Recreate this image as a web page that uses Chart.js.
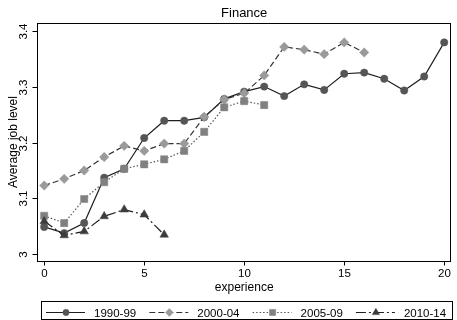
<!DOCTYPE html>
<html>
<head>
<meta charset="utf-8">
<script src="https://cdn.jsdelivr.net/npm/chart.js@4/dist/chart.umd.min.js"></script>
<style>
  html, body { margin: 0; padding: 0; background: #fff; }
  #wrap { width: 457px; height: 320px; position: relative; }
</style>
</head>
<body>
<div id="wrap"><canvas id="c"></canvas></div>
<script>
// Years of experience on the x axis
const experience = [0, 1, 2, 3, 4, 5, 6, 7, 8, 9, 10, 11, 12, 13, 14, 15, 16, 17, 18, 19, 20];

// Average job level by entry cohort
const cohort1990 = [3.049, 3.038, 3.056, 3.137, 3.153, 3.208, 3.239, 3.239, 3.245, 3.278, 3.291,
                    3.300, 3.283, 3.304, 3.294, 3.323, 3.325, 3.314, 3.293, 3.318, 3.379];
const cohort2000 = [3.123, 3.135, 3.150, 3.174, 3.194, 3.185, 3.198, 3.198, 3.246, 3.277, 3.288,
                    3.320, 3.371, 3.366, 3.358, 3.379, 3.361];
const cohort2005 = [3.069, 3.056, 3.099, 3.129, 3.153, 3.161, 3.170, 3.185, 3.219, 3.263, 3.274, 3.267];
const cohort2010 = [3.059, 3.034, 3.041, 3.068, 3.080, 3.071, 3.035];

const seriesNames = ['1990-99', '2000-04', '2005-09', '2010-14'];
const xTicks = [0, 5, 10, 15, 20];
const yTicks = [3, 3.1, 3.2, 3.3, 3.4];
const chartTitle = 'Finance';
const xTitle = 'experience';
const yTitle = 'Average job level';

const FONT = '"Liberation Sans", Arial, Helvetica, sans-serif';

function pts(values) {
  return values.map((v, i) => ({ x: experience[i], y: v }));
}

const styles = [
  { line: '#1e1e1e', mark: '#555555', dash: [], shape: 'circle', r: 3.7 },
  { line: '#333333', mark: '#9a9a9a', dash: [6, 3], shape: 'rectRot', r: 4.7 },
  { line: '#555555', mark: '#808080', dash: [1.5, 2], shape: 'rect', r: 5.1 },
  { line: '#1e1e1e', mark: '#3c3c3c', dash: [10, 3, 2, 3], shape: 'triangle', r: 4.9 }
];
const seriesData = [cohort1990, cohort2000, cohort2005, cohort2010];

const datasets = seriesData.map((vals, i) => ({
  label: seriesNames[i],
  data: pts(vals),
  borderColor: styles[i].line,
  borderWidth: 1.2,
  borderDash: styles[i].dash,
  backgroundColor: styles[i].mark,
  pointStyle: styles[i].shape,
  pointRadius: styles[i].r,
  pointBackgroundColor: styles[i].mark,
  pointBorderColor: styles[i].mark,
  pointBorderWidth: 0.5,
  tension: 0,
  fill: false,
  order: seriesData.length - i
}));

// Frame, ticks, titles and the boxed legend
const decorations = {
  id: 'decorations',
  afterDraw(chart) {
    const ctx = chart.ctx;
    const a = chart.chartArea;
    const xs = chart.scales.x, ys = chart.scales.y;
    ctx.save();

    // plot frame
    ctx.strokeStyle = '#000';
    ctx.lineWidth = 1;
    ctx.setLineDash([]);
    ctx.strokeRect(Math.round(a.left) + 0.5, Math.round(a.top) + 0.5,
                   Math.round(a.right - a.left) - 1, Math.round(a.bottom - a.top));

    // x ticks and labels
    ctx.fillStyle = '#000';
    ctx.font = '11.5px ' + FONT;
    ctx.textAlign = 'center';
    ctx.textBaseline = 'alphabetic';
    xTicks.forEach(t => {
      const px = Math.round(xs.getPixelForValue(t)) + 0.5;
      ctx.beginPath();
      ctx.moveTo(px, a.bottom);
      ctx.lineTo(px, a.bottom + 4.5);
      ctx.stroke();
      ctx.fillText(String(t), px, 277);
    });

    // y ticks and rotated labels
    yTicks.forEach(t => {
      const py = Math.round(ys.getPixelForValue(t)) + 0.5;
      ctx.beginPath();
      ctx.moveTo(a.left - 4.5, py);
      ctx.lineTo(a.left, py);
      ctx.stroke();
      ctx.save();
      ctx.translate(26.7, py);
      ctx.rotate(-Math.PI / 2);
      ctx.textAlign = 'center';
      ctx.fillText(String(t), 0, 0);
      ctx.restore();
    });

    // axis titles
    ctx.font = '12px ' + FONT;
    ctx.textAlign = 'center';
    ctx.fillText(xTitle, (a.left + a.right) / 2, 290.5);
    ctx.save();
    ctx.translate(16.5, (a.top + a.bottom) / 2);
    ctx.rotate(-Math.PI / 2);
    ctx.fillText(yTitle, 0, 0);
    ctx.restore();

    // title
    ctx.font = '13px ' + FONT;
    ctx.fillText(chartTitle, (a.left + a.right) / 2, 16.7);

    // legend box
    ctx.strokeRect(41.5, 301.5, 411, 18);
    ctx.font = '11.5px ' + FONT;
    ctx.textAlign = 'left';
    const cy = 312.5;
    chart.data.datasets.forEach((ds, i) => {
      const x0 = 46 + i * 103.3;
      ctx.save();
      ctx.strokeStyle = ds.borderColor;
      ctx.lineWidth = 1.2;
      ctx.setLineDash(ds.borderDash);
      ctx.beginPath();
      ctx.moveTo(x0, cy);
      ctx.lineTo(x0 + 39, cy);
      ctx.stroke();
      ctx.setLineDash([]);
      ctx.fillStyle = ds.pointBackgroundColor;
      ctx.strokeStyle = ds.pointBorderColor;
      ctx.lineWidth = 0.5;
      Chart.helpers.drawPoint(ctx, { pointStyle: ds.pointStyle, radius: ds.pointRadius * 0.85, rotation: 0, borderWidth: 0.5 }, x0 + 20, cy);
      ctx.restore();
      ctx.fillStyle = '#000';
      ctx.fillText(ds.label, x0 + 48, 316.5);
    });

    ctx.restore();
  }
};

new Chart(document.getElementById('c'), {
  type: 'line',
  data: { datasets },
  options: {
    responsive: true,
    maintainAspectRatio: false,
    animation: false,
    devicePixelRatio: 1,
    layout: { padding: { left: 37, right: 1.3, top: 23, bottom: 59 } },
    plugins: { legend: { display: false }, tooltip: { enabled: false }, title: { display: false } },
    scales: {
      x: { type: 'linear', min: -0.36, max: 20.36, display: false },
      y: { type: 'linear', min: 2.9881, max: 3.4137, display: false }
    }
  },
  plugins: [decorations]
});
</script>
</body>
</html>
